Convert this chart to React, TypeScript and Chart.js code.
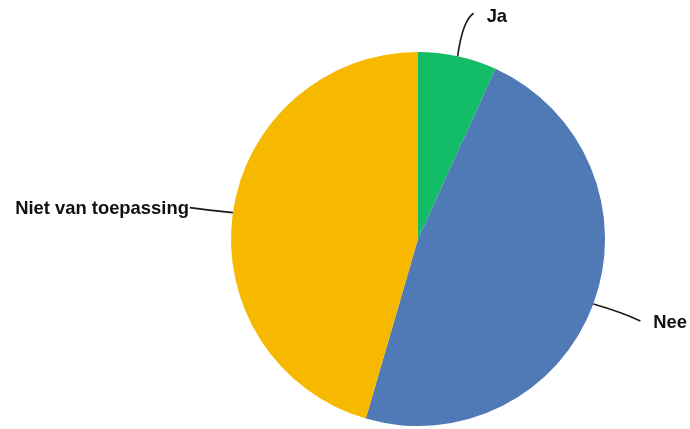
import React, { useEffect, useRef } from "react";
import { Chart, registerables } from "chart.js";

Chart.register(...registerables);

const labels = ["Ja", "Nee", "Niet van toepassing"];
const values = [6.8, 47.7, 45.5];
const colors = ["#13BD67", "#4F7AB5", "#F7B900"];

// leader-line geometry (relative to arc midpoint on the rim)
const leaders = [
  { ctrl: [5, -36], end: [16, -43], text: [29, -39], align: "left" },
  { ctrl: [28, 8], end: [47, 17], text: [60, 19], align: "left" },
  { ctrl: [-22, -2], end: [-43, -5], text: [-44, -4], align: "right" },
];

const labelPlugin = {
  id: "leaderLabels",
  afterDraw(chart: any) {
    const ctx = chart.ctx;
    const meta = chart.getDatasetMeta(0);
    meta.data.forEach((arc: any, i: number) => {
      const mid = (arc.startAngle + arc.endAngle) / 2;
      const x0 = arc.x + Math.cos(mid) * arc.outerRadius;
      const y0 = arc.y + Math.sin(mid) * arc.outerRadius;
      const L = leaders[i];
      ctx.save();
      ctx.strokeStyle = "#1a1a1a";
      ctx.lineWidth = 1.6;
      ctx.beginPath();
      ctx.moveTo(x0, y0);
      ctx.quadraticCurveTo(x0 + L.ctrl[0], y0 + L.ctrl[1], x0 + L.end[0], y0 + L.end[1]);
      ctx.stroke();
      ctx.fillStyle = "#111111";
      ctx.font = "bold 18.4px 'Liberation Sans', Arial, sans-serif";
      ctx.textAlign = L.align as CanvasTextAlign;
      ctx.textBaseline = "middle";
      ctx.fillText(labels[i], x0 + L.text[0], y0 + L.text[1]);
      ctx.restore();
    });
  },
};

export default function App() {
  const ref = useRef<HTMLCanvasElement>(null);
  useEffect(() => {
    if (!ref.current) return;
    const chart = new Chart(ref.current, {
      type: "pie",
      data: {
        labels,
        datasets: [
          {
            data: values,
            backgroundColor: colors,
            borderWidth: 0,
          },
        ],
      },
      options: {
        responsive: false,
        animation: false,
        layout: { padding: { left: 231, right: 85, top: 52, bottom: 3 } },
        plugins: { legend: { display: false }, tooltip: { enabled: false } },
      },
      plugins: [labelPlugin],
    });
    return () => chart.destroy();
  }, []);
  return (
    <div style={{ position: "fixed", left: 0, top: 0, width: 690, height: 429, background: "#fff" }}>
      <canvas ref={ref} width={690} height={429} />
    </div>
  );
}
